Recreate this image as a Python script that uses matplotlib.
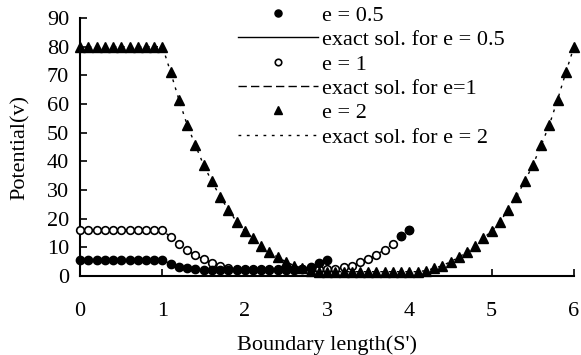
import numpy as np
import matplotlib
matplotlib.use('Agg')
import matplotlib.pyplot as plt

plt.rcParams['font.family'] = ['Liberation Serif', 'DejaVu Serif']

# boundary positions (step 0.1)
x_e05 = np.round(np.arange(0, 3.01, 0.1), 1)
x_e1 = np.round(np.arange(0, 4.01, 0.1), 1)
x_e2 = np.round(np.arange(0, 6.01, 0.1), 1)

# potential values
v_e05 = [5.6] * 11 + [4.2, 3.3, 2.7, 2.3] + [2.0] * 11 + [2.2, 2.6, 3.2, 4.6, 5.6]
v_e1 = ([16] * 11 + [13.5, 11.0, 9.0, 7.2, 5.8, 4.7, 3.4, 2.8] + [2.5] * 13
        + [3.0, 3.6, 4.8, 5.9, 7.5, 9.2, 11.3, 14.0, 16])
v_e2 = ([80] * 11
        + [71, 61.5, 52.7, 45.6, 38.7, 33, 27.7, 23.1, 19, 15.7, 13.2, 10.6, 8.5, 6.5, 5.0, 3.6, 2.7, 1.9]
        + [1.5] * 13
        + [1.9, 2.7, 3.6, 5.0, 6.5, 8.5, 10.6, 13.2, 15.7, 19, 23.1, 27.7, 33, 38.7, 45.6, 52.7, 61.5, 71, 80])

# exact solutions (same grid)
exact_e05 = v_e05
exact_e1 = v_e1
exact_e2 = v_e2

fig = plt.figure(figsize=(5.81, 3.55), dpi=100)
ax = fig.add_axes([0.138, 0.2225, 0.850, 0.7267])

l05, = ax.plot(x_e05, exact_e05, color='black', lw=1.0, ls='-', zorder=2)
l1, = ax.plot(x_e1, exact_e1, color='black', lw=1.0, ls=(0, (6, 3)), zorder=2)
l2, = ax.plot(x_e2, exact_e2, color='black', lw=1.0, ls=(0, (2, 4)), zorder=2)

m05, = ax.plot(x_e05, v_e05, 'o', color='black', ms=6, ls='none', clip_on=False, zorder=4)
m1, = ax.plot(x_e1, v_e1, 'o', mfc='white', mec='black', mew=1.2, ms=5.5, ls='none',
              clip_on=False, zorder=3)
ax.plot(x_e1[-2:], v_e1[-2:], 'o', color='black', ms=6, ls='none', clip_on=False, zorder=4)
m2, = ax.plot(x_e2, v_e2, '^', color='black', ms=7, ls='none', clip_on=False, zorder=5)

ax.set_xlim(0, 6)
ax.set_ylim(0, 90)
ax.set_xticks(range(0, 7))
ax.set_yticks(range(0, 91, 10))
for s in ['top', 'right']:
    ax.spines[s].set_visible(False)
for s in ['left', 'bottom']:
    ax.spines[s].set_linewidth(1.5)
ax.tick_params(axis='both', direction='in', length=5, width=1.2, labelsize=16)
ax.tick_params(axis='x', pad=19)
ax.tick_params(axis='y', pad=8)

ax.set_xlabel("Boundary length(S')", fontsize=16, labelpad=10)
ax.set_ylabel('Potential(v)', fontsize=16, labelpad=12)

ax.legend([m05, l05, m1, l1, m2, l2],
          ['e = 0.5', 'exact sol. for e = 0.5', 'e = 1', 'exact sol. for e=1',
           'e = 2', 'exact sol. for e = 2'],
          loc='upper left', bbox_to_anchor=(0.41, 0.985), bbox_transform=fig.transFigure,
          frameon=False, fontsize=16, numpoints=1, handlelength=3.6, handletextpad=0.15,
          labelspacing=0.17, borderpad=0, borderaxespad=0, markerscale=0.85)

fig.savefig('out.png', dpi=100)
